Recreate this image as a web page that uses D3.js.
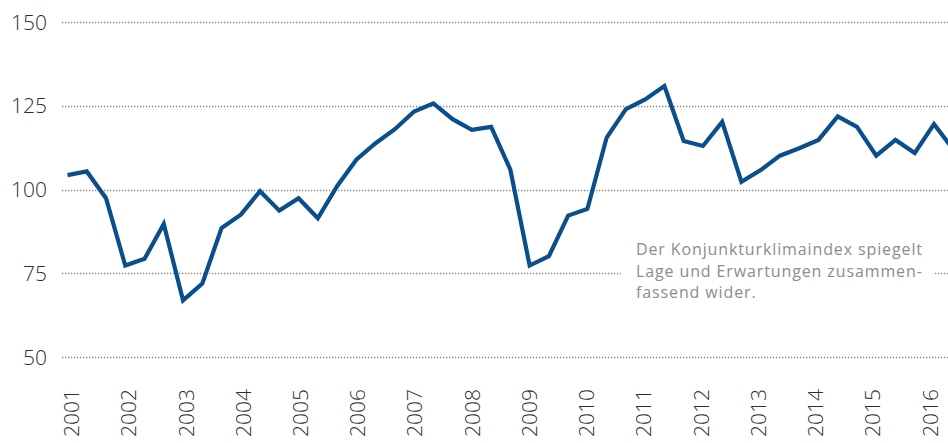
<!DOCTYPE html>
<html>
<head>
<meta charset="utf-8">
<script src="https://cdn.jsdelivr.net/npm/d3@7"></script>
<style>
  html, body { margin: 0; padding: 0; background: #fff; }
  svg { display: block; font-family: "Open Sans", "Noto Sans", sans-serif; }
  .grid line { stroke: #8a8a8a; stroke-width: 1.5; stroke-dasharray: 1.3 1.7; }
  .ylab, .xlab { fill: #2e2e2e; font-weight: 300; font-size: 21px; }
  .note { fill: #8c8c8c; font-size: 16px; font-weight: 400; }
</style>
</head>
<body>
<svg id="chart" width="948" height="443"></svg>
<script>
  // Konjunkturklimaindex, drei Werte pro Jahr (Jan, Mai, Sep)
  const startYear = 2001;
  const perYear = 3;
  const yearTicks = [2001, 2002, 2003, 2004, 2005, 2006, 2007, 2008,
                     2009, 2010, 2011, 2012, 2013, 2014, 2015, 2016];
  const yTicks = [50, 75, 100, 125, 150];
  const values = [
    104.3, 105.4, 97.4, 77.3, 79.3, 89.7, 66.9, 71.9, 88.5, 92.5,
    99.5, 93.7, 97.4, 91.4, 101, 108.9, 113.8, 118, 123.3, 125.7,
    121, 117.8, 118.7, 105.9, 77.3, 80.1, 92.2, 94.2, 115.5, 124,
    126.9, 130.9, 114.5, 113, 120.2, 102.3, 105.8, 110.1, 112.3, 114.8,
    121.8, 118.7, 110.1, 114.8, 110.9, 119.5, 112
  ];
  const noteLines = [
    "Der Konjunkturklimaindex spiegelt",
    "Lage und Erwartungen zusammen-",
    "fassend wider."
  ];

  const svg = d3.select("#chart");

  const x = d3.scaleLinear().domain([2001, 2016]).range([67.5, 934]);
  // year labels sit on a slightly tighter spacing than the data points
  const xLabel = d3.scaleLinear().domain([2001, 2016]).range([71.5, 930]);
  const y = d3.scaleLinear().domain([50, 150]).range([357, 22]);

  const points = values.map((v, i) => ({ t: startYear + i / perYear, v: v }));

  // dotted gridlines
  svg.append("g")
    .attr("class", "grid")
    .selectAll("line")
    .data(yTicks)
    .join("line")
    .attr("x1", 62)
    .attr("x2", 948)
    .attr("y1", (d) => Math.round(y(d)) + 0.5)
    .attr("y2", (d) => Math.round(y(d)) + 0.5);

  svg.append("g")
    .selectAll("text")
    .data(yTicks)
    .join("text")
    .attr("class", "ylab")
    .attr("x", 47)
    .attr("y", (d) => y(d))
    .attr("dy", "0.36em")
    .attr("text-anchor", "end")
    .text((d) => d);

  svg.append("g")
    .selectAll("text")
    .data(yearTicks)
    .join("text")
    .attr("class", "xlab")
    .attr("transform", (d) => `translate(${xLabel(d)},437) rotate(-90)`)
    .attr("dy", "0.36em")
    .attr("text-anchor", "start")
    .text((d) => d);

  // annotation box cuts the 75 gridline
  const note = svg.append("g").attr("class", "note-box");
  note.append("rect")
    .attr("x", 621)
    .attr("y", 236)
    .attr("width", 314)
    .attr("height", 70)
    .attr("fill", "#fff");

  const noteText = note.selectAll("text")
    .data(noteLines)
    .join("text")
    .attr("class", "note")
    .attr("x", 636)
    .attr("y", (d, i) => 255 + i * 21.5)
    .text((d) => d);

  // stretch letter spacing so the first line has the reference width
  const first = noteText.node();
  const w = first.getComputedTextLength();
  const spacing = (286 - w) / (noteLines[0].length - 1);
  noteText.style("letter-spacing", spacing + "px");

  const line = d3.line()
    .x((d) => x(d.t))
    .y((d) => y(d.v));

  svg.append("path")
    .datum(points)
    .attr("fill", "none")
    .attr("stroke", "#0a4f8b")
    .attr("stroke-width", 4.2)
    .attr("stroke-linejoin", "miter")
    .attr("d", line);
</script>
</body>
</html>
